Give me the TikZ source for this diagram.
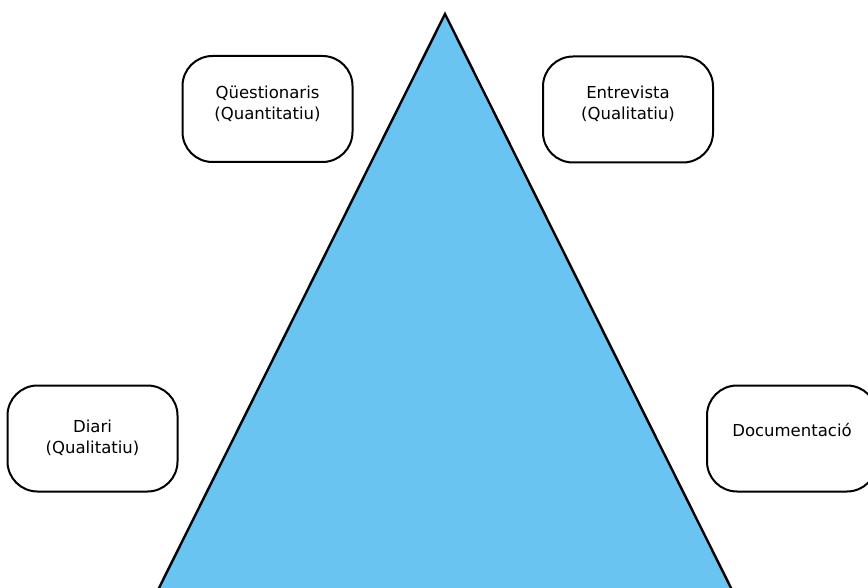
\documentclass[tikz,border=0pt]{standalone}
\usepackage{fontspec}
\setmainfont{DejaVu Sans}
\usetikzlibrary{calc}
\definecolor{triblue}{RGB}{106,196,241}
\begin{document}
\begin{tikzpicture}[x=1pt,y=-1pt,
  methodbox/.style={draw=black, line width=2pt, fill=white, rounded corners=30pt,
    minimum width=170pt, minimum height=106pt, inner sep=0pt},
  boxtext/.style={align=center, font=\fontsize{16.5}{21}\selectfont, inner sep=0pt}]
\useasboundingbox (0,0) rectangle (868,588);
\begin{scope}
\clip (0,0) rectangle (868,588);
\coordinate (apex) at (445,14);
\coordinate (bl) at (153,600);
\coordinate (br) at (737,600);
\draw[fill=triblue, line width=2.4pt, line join=miter] (apex) -- (bl) -- (br) -- cycle;
\node[methodbox] (q) at (267.5,109) {};
\node[boxtext] (qt) at ($(q.center)+(0,-5.5)$) {Qüestionaris\\(Quantitatiu)};
\node[methodbox] (e) at (628,109.5) {};
\node[boxtext] (et) at ($(e.center)+(0,-6)$) {Entrevista\\(Qualitatiu)};
\node[methodbox] (d) at (92.5,438.5) {};
\node[boxtext] (dt) at ($(d.center)+(0,-1)$) {Diari\\(Qualitatiu)};
\node[methodbox] (doc) at (792,438.5) {};
\node[boxtext] (doct) at ($(doc.center)+(0,-8.5)$) {Documentació};
\end{scope}
\end{tikzpicture}
\end{document}
